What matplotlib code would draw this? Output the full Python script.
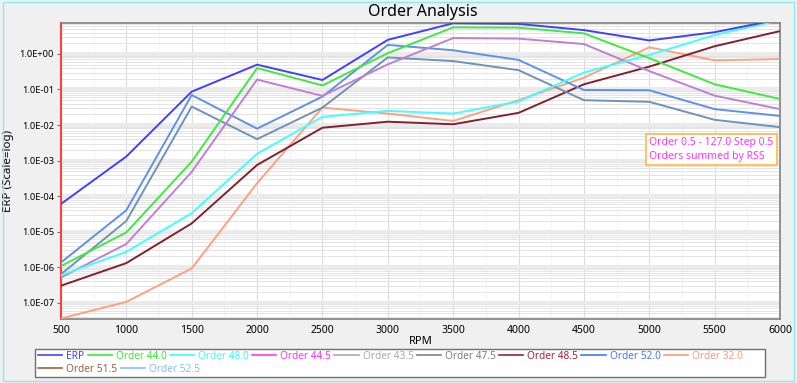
import matplotlib
matplotlib.use("Agg")
import matplotlib.pyplot as plt
import numpy as np
from matplotlib.lines import Line2D
from matplotlib.patches import Rectangle
from matplotlib.ticker import FixedLocator, LogLocator, FuncFormatter, NullFormatter

plt.rcParams['font.family'] = ['Noto Sans', 'DejaVu Sans']

# RPM steps
rpm = [500, 1000, 1500, 2000, 2500, 3000, 3500, 4000, 4500, 5000, 5500, 6000]

# Order curves (log scale)
erp = [6e-5, 1.3e-3, 0.087, 0.5, 0.185, 2.5, 7.3, 7.0, 4.7, 2.4, 4.1, 9.5]
order_44_0 = [1.07e-6, 9.5e-6, 9.3e-4, 0.40, 0.13, 1.05, 5.6, 5.5, 3.8, 0.76, 0.14, 0.054]
order_48_0 = [5.9e-7, 2.7e-6, 3.3e-5, 1.55e-3, 0.017, 0.025, 0.021, 0.046, 0.30, 0.94, 3.4, 9.0]
order_44_5 = [5.1e-7, 4.5e-6, 4.8e-4, 0.19, 0.066, 0.51, 2.8, 2.7, 1.9, 0.33, 0.067, 0.028]
order_47_5 = [6.3e-7, 2.0e-5, 0.033, 0.004, 0.031, 0.80, 0.63, 0.35, 0.050, 0.045, 0.014, 0.0087]
order_48_5 = [3.0e-7, 1.3e-6, 1.7e-5, 7.5e-4, 8.4e-3, 0.0124, 0.0105, 0.022, 0.14, 0.44, 1.65, 4.4]
order_52_0 = [1.35e-6, 4.0e-5, 0.070, 0.0079, 0.063, 1.8, 1.27, 0.68, 0.097, 0.095, 0.028, 0.018]
order_32_0 = [3.6e-8, 1.05e-7, 9.2e-7, 2.3e-4, 0.031, 0.021, 0.013, 0.050, 0.215, 1.54, 0.66, 0.72]

# legend entries (row 1, row 2)
legend_row1 = ['ERP', 'Order 44.0', 'Order 48.0', 'Order 44.5', 'Order 43.5',
               'Order 47.5', 'Order 48.5', 'Order 52.0', 'Order 32.0']
legend_row2 = ['Order 51.5', 'Order 52.5']
legend_colors = {'ERP': '#4444ff', 'Order 44.0': '#33ee33', 'Order 48.0': '#33ffff',
                 'Order 44.5': '#ff33ff', 'Order 43.5': '#aaaaaa', 'Order 47.5': '#808080',
                 'Order 48.5': '#a02040', 'Order 52.0': '#4477ff', 'Order 32.0': '#ff9977',
                 'Order 51.5': '#a06040', 'Order 52.5': '#88bbff'}

# (values, line colour) in drawing order
curves = [
    (order_32_0, '#ffa080'),
    (order_48_5, '#802030'),
    (order_47_5, '#6f92b8'),
    (order_52_0, '#6090e8'),
    (order_44_5, '#c080d0'),
    (order_48_0, '#40ffff'),
    (order_44_0, '#40e840'),
    (erp, '#4040ff'),
]

fig = plt.figure(figsize=(7.97, 3.83), dpi=100, facecolor='#f0f0f0')
ax = fig.add_axes([0.0765, 0.1663, 0.9022, 0.7729])
ax.set_facecolor('white')

for values, color in curves:
    ax.plot(rpm, values, color=color, lw=1.4, zorder=3)

ax.set_yscale('log')
ax.set_xlim(500, 6000)
ax.set_ylim(3.4e-8, 7.3)

ax.xaxis.set_major_locator(FixedLocator(np.arange(500, 6001, 500)))
ax.xaxis.set_minor_locator(FixedLocator(np.arange(750, 6000, 500)))
ax.yaxis.set_major_locator(LogLocator(base=10, numticks=20))
ax.yaxis.set_minor_locator(LogLocator(base=10, subs=np.arange(2, 10), numticks=20))
ax.yaxis.set_major_formatter(FuncFormatter(lambda v, p: '%.1E' % v))
ax.yaxis.set_minor_formatter(NullFormatter())

ax.grid(which='major', axis='x', color='#dcdcdc', lw=0.8)
ax.grid(which='minor', axis='x', color='#e8e8e8', lw=0.6, ls=(0, (1, 1)))
ax.grid(which='major', axis='y', color='#ebebeb', lw=3.0)
ax.grid(which='minor', axis='y', color='#e4e4e4', lw=0.7)

ax.tick_params(axis='y', which='major', labelsize=6.7, length=3, color='#707070', pad=2)
ax.tick_params(axis='x', which='major', labelsize=7.5, length=0, pad=4)
ax.tick_params(axis='both', which='minor', length=0)

for side in ['top', 'right', 'bottom']:
    ax.spines[side].set_color('#808080')
    ax.spines[side].set_linewidth(1.2)
ax.spines['left'].set_color('#ff4040')
ax.spines['left'].set_linewidth(1.5)

ax.set_xlabel('RPM', fontsize=8, labelpad=0)
ax.set_ylabel('ERP (Scale=log)', fontsize=8.3)
ax.yaxis.set_label_coords(-0.066, 0.5)
fig.text(0.531, 0.968, 'Order Analysis', ha='center', va='center', fontsize=11.5)

ax.text(0.818, 0.615, 'Order 0.5 - 127.0 Step 0.5\nOrders summed by RSS',
        transform=ax.transAxes, fontsize=7.5, color='#ff33ff', va='top', ha='left',
        linespacing=1.3, zorder=5,
        bbox=dict(boxstyle='square,pad=0.3', fc='white', ec='#ffb840', lw=1.2))

# legend frame and rows
fig.patches.append(Rectangle((35 / 797, 1 - 377 / 383), 730 / 797, 28 / 383,
                             transform=fig.transFigure, fc='white', ec='#707070', lw=1.0))
for row, ytop in [(legend_row1, 1 - 349 / 383), (legend_row2, 1 - 362 / 383)]:
    handles = [Line2D([], [], color=legend_colors[n], lw=1.2) for n in row]
    leg = fig.legend(handles, row, loc='upper left', bbox_to_anchor=(36 / 797, ytop),
                     ncol=len(row), frameon=False, fontsize=7.3, handlelength=2.4,
                     handletextpad=0.4, columnspacing=0.3, borderpad=0.2,
                     borderaxespad=0)
    for txt, n in zip(leg.get_texts(), row):
        txt.set_color(legend_colors[n])

fig.patches.append(Rectangle((0.004, 0.004), 0.992, 0.99, transform=fig.transFigure,
                             fill=False, ec='#80f0f0', lw=1.0))

fig.savefig('out.png', dpi=100, facecolor=fig.get_facecolor())
